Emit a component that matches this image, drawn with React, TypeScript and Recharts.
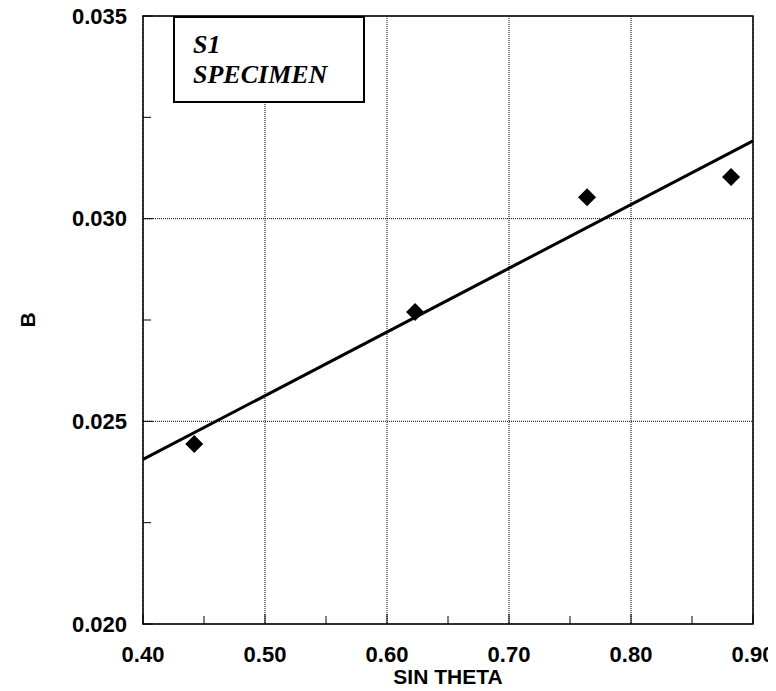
import React from "react";
import {
  ComposedChart,
  Scatter,
  XAxis,
  YAxis,
  CartesianGrid,
  ReferenceLine,
  ReferenceArea,
  Label,
} from "recharts";

// ---- data ----
const xTicks = [0.4, 0.45, 0.5, 0.55, 0.6, 0.65, 0.7, 0.75, 0.8, 0.85, 0.9];
const xMajor = [0.4, 0.5, 0.6, 0.7, 0.8, 0.9];
const yTicks = [0.02, 0.0225, 0.025, 0.0275, 0.03, 0.0325, 0.035];
const yMajor = [0.02, 0.025, 0.03, 0.035];
const sinTheta = [0.442, 0.623, 0.764, 0.882];
const bValues = [0.02444, 0.0277, 0.03053, 0.03103];
const fitX = [0.4, 0.9];
const fitB = [0.02406, 0.03192];
const legendLines = ["S1", "SPECIMEN"];

const points = sinTheta.map((x, i) => ({ x, b: bValues[i] }));
const fitSegment = fitX.map((x, i) => ({ x, y: fitB[i] }));

const isMajor = (v: number, majors: number[]) =>
  majors.some((m) => Math.abs(m - v) < 1e-9);

const FONT = "'Liberation Sans', Arial, Helvetica, sans-serif";

const XTick = (props: any) => {
  const { x, y, payload } = props;
  const v = payload.value as number;
  const major = isMajor(v, xMajor);
  return (
    <g>
      <line x1={x} y1={y} x2={x} y2={y - (major ? 10 : 8)} stroke="#000" strokeWidth={1} />
      {major && (
        <text
          x={x}
          y={y + 30}
          textAnchor="middle"
          dominantBaseline="central"
          fontFamily={FONT}
          fontWeight="bold"
          fontSize={22}
          fill="#000"
        >
          {v.toFixed(2)}
        </text>
      )}
    </g>
  );
};

const YTick = (props: any) => {
  const { x, y, payload } = props;
  const v = payload.value as number;
  const major = isMajor(v, yMajor);
  return (
    <g>
      <line x1={x} y1={y} x2={x + (major ? 10 : 8)} y2={y} stroke="#000" strokeWidth={1} />
      {major && (
        <text
          x={x - 16}
          y={y}
          textAnchor="end"
          dominantBaseline="central"
          fontFamily={FONT}
          fontWeight="bold"
          fontSize={22}
          fill="#000"
        >
          {v.toFixed(3)}
        </text>
      )}
    </g>
  );
};

const Diamond = (props: any) => {
  const { cx, cy } = props;
  const r = 9;
  return (
    <polygon
      points={`${cx},${cy - r} ${cx + r},${cy} ${cx},${cy + r} ${cx - r},${cy}`}
      fill="#000"
    />
  );
};

export default function App() {
  return (
    <div style={{ position: "relative", width: 768, height: 691, marginTop: -8 }}>
      <ComposedChart
        width={768}
        height={691}
        data={points}
        margin={{ top: 16, right: 23, left: 0, bottom: 0 }}
      >
        <CartesianGrid
          stroke="#000"
          strokeDasharray="1 1"
          horizontalValues={yMajor}
          verticalValues={xMajor}
        />
        <XAxis
          type="number"
          dataKey="x"
          domain={[0.4, 0.9]}
          ticks={xTicks}
          interval={0}
          height={67}
          axisLine={false}
          tickLine={false}
          tickSize={0}
          tickMargin={0}
          tick={<XTick />}
        >
          <Label
            value="SIN THETA"
            position="insideBottom"
            offset={7}
            style={{ fontFamily: FONT, fontWeight: "bold", fontSize: 21, fill: "#000" }}
          />
        </XAxis>
        <YAxis
          type="number"
          dataKey="b"
          domain={[0.02, 0.035]}
          ticks={yTicks}
          interval={0}
          width={135}
          axisLine={false}
          tickLine={false}
          tickSize={0}
          tickMargin={0}
          tick={<YTick />}
        >
          <Label
            value="B"
            angle={-90}
            position="insideLeft"
            offset={20}
            style={{ fontFamily: FONT, fontWeight: "bold", fontSize: 21, fill: "#000", textAnchor: "middle" }}
          />
        </YAxis>
        <ReferenceArea
          x1={0.4}
          x2={0.9}
          y1={0.02}
          y2={0.035}
          fill="none"
          stroke="#000"
          strokeWidth={1.5}
          ifOverflow="visible"
        />
        <ReferenceLine
          segment={fitSegment}
          stroke="#000"
          strokeWidth={3}
          ifOverflow="visible"
        />
        <Scatter dataKey="b" shape={<Diamond />} isAnimationActive={false} />
      </ComposedChart>
      <div
        style={{
          position: "absolute",
          left: 165,
          top: 16,
          width: 192,
          height: 87,
          boxSizing: "border-box",
          border: "2px solid #000",
          background: "#fff",
          paddingLeft: 18,
          paddingTop: 12,
          fontFamily: "'Liberation Serif', 'Times New Roman', serif",
          fontWeight: "bold",
          fontStyle: "italic",
          fontSize: 26,
          lineHeight: "30px",
          color: "#000",
        }}
      >
        {legendLines.map((t) => (
          <div key={t}>{t}</div>
        ))}
      </div>
    </div>
  );
}
